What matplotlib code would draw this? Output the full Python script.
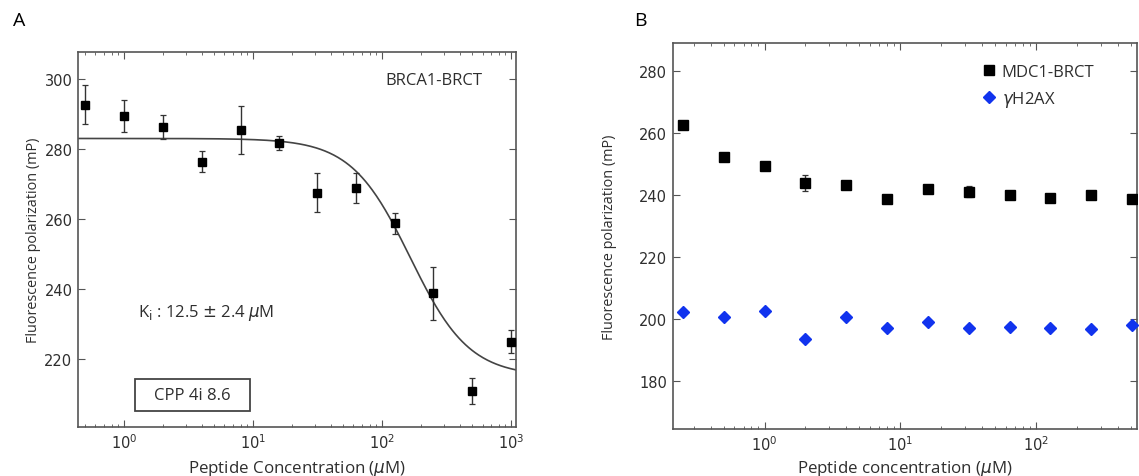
import numpy as np
import matplotlib
matplotlib.use("Agg")
import matplotlib.pyplot as plt
from matplotlib.ticker import LogLocator, NullFormatter
from matplotlib.patches import Rectangle

# ---------------- data: panel A ----------------
conc_a = [0.5, 1, 2, 4, 8, 16, 31.25, 62.5, 125, 250, 500, 1000]
fp_a = [292.7, 289.5, 286.2, 276.4, 285.4, 281.8, 267.5, 268.8, 258.8, 238.7, 210.8, 224.9]
err_a = [5.5, 4.6, 3.4, 3.0, 6.9, 2.0, 5.6, 4.2, 3.0, 7.6, 3.8, 3.3]
# fitted dose-response curve parameters
fit_top = 283.0
fit_bottom = 215.0
fit_ic50 = 165.0
fit_hill = 1.9

# ---------------- data: panel B ----------------
conc_b = [0.25, 0.5, 1, 2, 4, 8, 16, 32, 64, 128, 256, 512]
mdc1 = [262.6, 252.4, 249.5, 243.9, 243.3, 238.7, 242.1, 241.2, 240.0, 239.2, 240.1, 238.8]
mdc1_err = [0.6, 0.6, 0.7, 2.5, 0.7, 0.5, 1.0, 1.8, 0.6, 0.6, 0.6, 0.5]
h2ax = [202.3, 200.8, 202.8, 193.8, 200.6, 197.2, 199.1, 197.1, 197.6, 197.1, 196.9, 198.1]

labels_b = ["MDC1-BRCT", r"$\gamma$H2AX"]

TXT = "#2e2e2e"
LAB_FONT = ["Open Sans", "DejaVu Sans"]

plt.rcParams["font.family"] = ["DejaVu Sans"]
plt.rcParams["mathtext.fontset"] = "dejavusans"

fig = plt.figure(figsize=(11.39, 4.77), dpi=100)

def style_axes(ax):
    ax.set_xscale("log")
    ax.tick_params(which="both", direction="in", top=True, right=True,
                   colors="#555555", labelcolor="#2e2e2e", labelsize=10.5, pad=4)
    ax.tick_params(which="major", length=5, width=0.8)
    ax.tick_params(which="minor", length=2.5, width=0.6)
    ax.xaxis.set_minor_locator(LogLocator(base=10, subs=np.arange(2, 10), numticks=20))
    ax.xaxis.set_minor_formatter(NullFormatter())
    for s in ax.spines.values():
        s.set_color("#555555")
        s.set_linewidth(1.2)

# ---------------- panel A ----------------
axA = fig.add_axes([0.0685, 0.1027, 0.3845, 0.786])
style_axes(axA)
xfit = np.logspace(np.log10(0.44), np.log10(1090), 400)
yfit = fit_bottom + (fit_top - fit_bottom) / (1 + (xfit / fit_ic50) ** fit_hill)
axA.plot(xfit, yfit, color="#444444", lw=1.2, zorder=2)
axA.errorbar(conc_a, fp_a, yerr=err_a, fmt="s", color="black", ms=5.5,
             ecolor="#333333", elinewidth=1.0, capsize=2.5, capthick=0.9, zorder=3)
axA.set_xlim(0.44, 1090)
axA.set_ylim(200.5, 307.7)
axA.set_yticks([220, 240, 260, 280, 300])
axA.set_xlabel(r"Peptide Concentration ($\mu$M)", fontsize=12.2, color=TXT,
               family=LAB_FONT)
axA.xaxis.set_label_coords(0.5, -0.082)
axA.set_ylabel("Fluorescence polarization (mP)", fontsize=10.4, color=TXT,
               family=LAB_FONT)
axA.yaxis.set_label_coords(-0.085, 0.5)
axA.text(0.813, 0.925, "BRCA1-BRCT", transform=axA.transAxes, ha="center", va="center",
         fontsize=12, color=TXT, family=LAB_FONT)
axA.text(0.137, 0.307, r"K$_\mathrm{i}$ : 12.5 $\pm$ 2.4 $\mu$M", transform=axA.transAxes,
         ha="left", va="center", fontsize=12, color=TXT, family=LAB_FONT)
axA.add_patch(Rectangle((0.130, 0.043), 0.263, 0.085, transform=axA.transAxes,
                        fc="white", ec="#444444", lw=1.3, zorder=4))
axA.text(0.262, 0.085, "CPP 4i 8.6", transform=axA.transAxes, ha="center", va="center",
         fontsize=12, color=TXT, family=LAB_FONT, zorder=5)
fig.text(0.011, 0.955, "A", fontsize=14, color="black", family=LAB_FONT, va="center")

# ---------------- panel B ----------------
axB = fig.add_axes([0.5905, 0.0985, 0.4077, 0.809])
style_axes(axB)
hB1 = axB.errorbar(conc_b, mdc1, yerr=mdc1_err, fmt="s", color="black", ms=6.5,
                   ecolor="#333333", elinewidth=1.0, capsize=2.5, capthick=0.9,
                   zorder=3)
hB2, = axB.plot(conc_b, h2ax, "D", color="#1133ee", ms=6.5, mec="#1133ee",
                zorder=3, clip_on=False)
axB.set_xlim(0.21, 555)
axB.set_ylim(164.6, 289.1)
axB.set_yticks([180, 200, 220, 240, 260, 280])
axB.set_xlabel(r"Peptide concentration ($\mu$M)", fontsize=12.2, color=TXT,
               family=LAB_FONT)
axB.xaxis.set_label_coords(0.5, -0.075)
axB.set_ylabel("Fluorescence polarization (mP)", fontsize=10.4, color=TXT,
               family=LAB_FONT)
axB.yaxis.set_label_coords(-0.12, 0.5)
sq_handle = plt.Line2D([], [], ls="none", marker="s", color="black", ms=6.5)
leg = axB.legend([sq_handle, hB2], labels_b, loc="upper left",
                 bbox_to_anchor=(0.664, 0.946), frameon=False, handletextpad=0.25,
                 handlelength=1.0, borderaxespad=0.0, borderpad=0.0, labelspacing=0.55,
                 prop={"family": LAB_FONT, "size": 12})
for t in leg.get_texts():
    t.set_color(TXT)
fig.text(0.557, 0.955, "B", fontsize=14, color="black", family=LAB_FONT, va="center")

fig.savefig("out.png", dpi=100)
